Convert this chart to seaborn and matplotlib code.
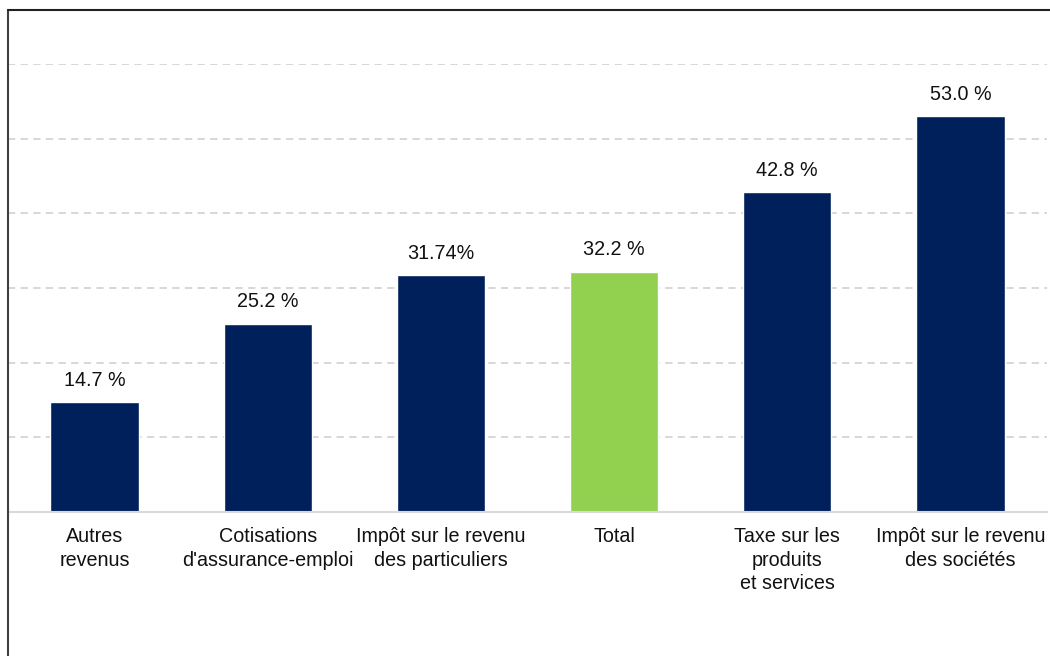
import matplotlib
matplotlib.use("Agg")
import matplotlib.pyplot as plt
from matplotlib.lines import Line2D
import seaborn as sns
import pandas as pd

categories = ["Autres\nrevenus", "Cotisations\nd'assurance-emploi",
              "Impôt sur le revenu\ndes particuliers", "Total",
              "Taxe sur les\nproduits\net services",
              "Impôt sur le revenu\ndes sociétés"]
values = [14.7, 25.2, 31.74, 32.2, 42.8, 53.0]
value_labels = ["14.7 %", "25.2 %", "31.74%", "32.2 %", "42.8 %", "53.0 %"]
bar_colors = ["#00205B", "#00205B", "#00205B", "#92D050", "#00205B", "#00205B"]

sns.set_theme(style="white")
plt.rcParams['font.family'] = ['Liberation Sans', 'DejaVu Sans']

df = pd.DataFrame({"cat": categories, "val": values})

fig = plt.figure(figsize=(10.5, 6.56), dpi=100)
ax = fig.add_axes([8/1050, 144/656, 1039/1050, 448/656])

sns.barplot(data=df, x="cat", y="val", hue="cat", palette=bar_colors,
            legend=False, width=0.51, ax=ax, saturation=1)

ax.set_ylim(0, 60)
ax.set_xlim(-0.5, 5.5)
ax.set_yticks([10, 20, 30, 40, 50, 60])
ax.set_yticklabels([])
ax.yaxis.grid(True, color="#D4D4D4", linestyle=(0, (4, 3)), linewidth=1.3)
ax.xaxis.grid(False)
ax.set_axisbelow(True)
for s in ["top", "right", "left"]:
    ax.spines[s].set_visible(False)
ax.spines["bottom"].set_color("#D9D9D9")
ax.spines["bottom"].set_linewidth(1.5)
ax.tick_params(axis="x", length=0, pad=11, labelsize=14.2, colors="#111111")
ax.tick_params(axis="y", length=0)
for lbl in ax.get_xticklabels():
    lbl.set_linespacing(1.3)
ax.set_xlabel("")
ax.set_ylabel("")

for i, (v, t) in enumerate(zip(values, value_labels)):
    ax.annotate(t, xy=(i, v), xytext=(0, 9), textcoords="offset points",
                ha="center", va="bottom", fontsize=14.2, color="#111111",
                annotation_clip=False)

# figure border (left and top)
fig.add_artist(Line2D([8/1050, 8/1050], [0, 1 - 10/656], transform=fig.transFigure,
                      color="#404040", linewidth=1.5))
fig.add_artist(Line2D([8/1050, 1], [1 - 10/656, 1 - 10/656], transform=fig.transFigure,
                      color="#202020", linewidth=1.5))

fig.savefig("out.png", dpi=100)
